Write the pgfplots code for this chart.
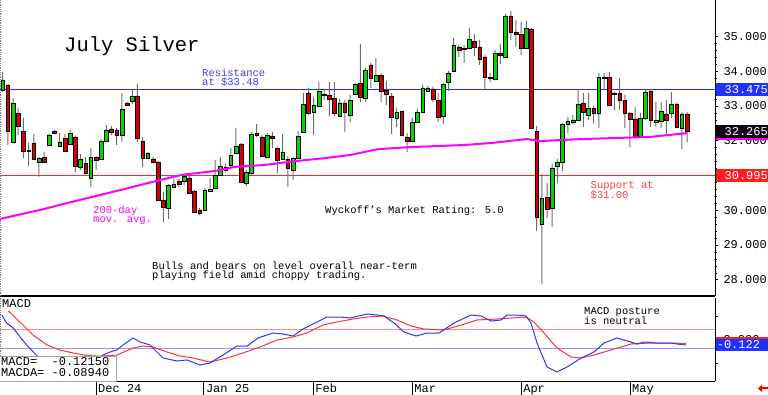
\documentclass[border=0pt]{standalone}
\usepackage{pgfplots}
\pgfplotsset{compat=1.18}
\usepackage{pgfplotstable}
\usepackage{fontspec}
\setmainfont{Liberation Mono}
\usetikzlibrary{arrows.meta}
\definecolor{upgreen}{RGB}{0,214,0}
\definecolor{dnred}{RGB}{214,0,0}
\definecolor{wick}{RGB}{110,110,110}
\definecolor{resblue}{RGB}{40,40,255}
\definecolor{restext}{RGB}{60,60,255}
\definecolor{supred}{RGB}{255,40,40}
\definecolor{suptext}{RGB}{255,60,60}
\definecolor{mamag}{RGB}{255,0,255}
\definecolor{macdblue}{RGB}{50,50,255}
\definecolor{macdred}{RGB}{255,50,50}
\definecolor{lightred}{RGB}{255,140,140}
\definecolor{lightblue}{RGB}{150,150,255}
\definecolor{boxblue}{RGB}{30,50,255}
\definecolor{boxred}{RGB}{255,30,30}
\definecolor{boxblack}{RGB}{20,0,20}
\newcommand\fs[1]{\fontsize{#1}{#1}\selectfont}

\pgfplotstableread{
j o h l c
0 33.46 33.98 33.40 33.75
1 33.61 33.63 31.88 32.28
2 31.97 33.23 31.94 33.09
3 32.80 32.94 32.17 32.43
4 32.28 32.66 31.50 31.71
5 31.71 31.94 31.27 31.73
6 31.94 32.20 31.45 31.48
7 31.39 31.53 30.96 31.50
8 31.53 31.68 31.36 31.39
9 31.88 32.20 31.85 32.17
10 32.28 32.31 32.20 32.22
11 31.85 32.22 31.82 31.97
12 32.08 32.20 31.68 31.71
13 31.91 32.31 31.88 32.22
14 32.11 32.14 31.10 31.27
15 31.25 31.62 31.16 31.48
16 31.36 31.53 31.04 31.07
17 30.93 31.79 30.67 31.53
18 31.53 31.56 31.16 31.45
19 31.48 32.05 31.45 31.99
20 31.99 32.45 31.97 32.31
21 32.34 32.43 32.17 32.25
22 32.31 32.37 31.88 32.17
23 32.17 33.37 31.97 32.91
24 33.09 33.12 33.00 33.03
25 33.14 33.49 33.06 33.29
26 33.29 33.63 31.97 32.08
27 31.99 32.11 31.25 31.50
28 31.50 31.68 31.48 31.65
29 31.48 31.53 31.36 31.39
30 31.39 31.42 30.27 30.30
31 30.30 30.53 29.66 30.10
32 30.07 30.76 29.75 30.73
33 30.67 30.90 30.64 30.76
34 30.84 30.90 30.67 30.76
35 30.84 31.04 30.73 30.99
36 30.93 30.99 30.47 30.50
37 30.56 30.58 29.92 29.95
38 30.01 30.07 29.86 29.92
39 30.01 30.64 29.98 30.58
40 30.56 30.93 30.53 30.61
41 30.64 31.45 30.61 31.02
42 31.02 31.53 30.99 31.27
43 31.16 31.33 31.10 31.25
44 31.30 31.79 31.25 31.59
45 31.65 32.37 31.65 31.85
46 31.91 31.94 30.78 30.81
47 30.78 31.16 30.70 31.10
48 31.07 32.25 31.02 32.20
49 32.22 32.48 32.11 32.17
50 32.11 32.17 31.53 31.56
51 31.53 32.22 31.50 32.17
52 32.14 32.25 31.79 32.08
53 31.79 31.82 31.07 31.45
54 31.48 32.20 31.45 31.68
55 31.48 31.56 30.67 31.22
56 31.16 31.53 30.87 31.50
57 31.50 32.28 31.48 32.14
58 32.25 33.37 32.25 33.06
59 33.37 33.52 32.74 32.80
60 32.83 33.26 32.17 33.03
61 33.00 33.69 32.97 33.43
62 33.35 33.46 33.17 33.32
63 33.32 33.69 32.71 33.20
64 33.23 33.69 32.71 32.80
65 32.71 33.20 32.68 33.09
66 33.09 33.17 32.25 32.83
67 32.74 33.32 32.54 33.17
68 33.35 33.66 33.32 33.63
69 33.66 34.78 33.12 33.26
70 33.23 34.09 33.12 34.04
71 34.18 34.24 33.52 33.81
72 33.72 34.38 33.69 33.89
73 33.89 33.95 33.12 33.43
74 33.46 33.72 33.03 33.35
75 33.29 33.37 32.20 32.68
76 32.65 32.94 32.40 32.83
77 32.86 32.86 32.14 32.17
78 32.11 32.22 31.68 31.99
79 31.99 32.65 31.97 32.54
80 32.54 32.91 32.51 32.83
81 32.83 33.60 32.83 33.52
82 33.43 33.58 33.40 33.52
83 33.49 33.55 33.12 33.20
84 33.17 33.37 32.54 32.68
85 32.71 33.66 32.48 33.63
86 33.69 34.01 33.43 33.95
87 34.01 34.96 33.98 34.75
88 34.70 34.75 34.41 34.61
89 34.64 34.75 34.24 34.67
90 34.67 35.24 34.64 34.93
91 34.87 35.07 34.44 34.70
92 34.70 34.90 34.18 34.35
93 34.41 34.47 33.46 33.83
94 33.83 33.95 33.69 33.81
95 33.78 34.61 33.75 34.53
96 34.53 34.78 34.21 34.47
97 34.41 35.65 34.38 35.59
98 35.59 35.73 34.90 35.13
99 35.13 35.48 34.70 35.07
100 35.07 35.42 34.47 34.67
101 34.67 35.45 34.67 35.24
102 35.22 35.24 32.34 32.37
103 32.28 32.43 29.40 29.81
104 29.61 31.04 27.88 30.35
105 30.38 30.78 29.78 30.04
106 30.07 31.33 29.52 31.22
107 31.27 31.48 30.78 31.39
108 31.39 32.51 31.13 32.48
109 32.48 32.68 32.22 32.57
110 32.54 32.74 32.48 32.60
111 32.60 33.46 32.57 33.06
112 33.09 33.37 32.40 32.83
113 32.74 33.37 32.60 32.94
114 32.94 33.00 32.51 32.80
115 32.80 33.95 32.37 33.83
116 33.83 33.95 33.46 33.81
117 33.83 33.98 33.03 33.02
118 33.35 33.40 32.88 33.37
119 33.37 33.81 32.88 33.17
120 33.17 33.32 32.37 32.80
121 32.80 32.83 31.82 32.63
122 32.63 32.97 32.11 32.14
123 32.14 32.80 32.11 32.65
124 32.65 33.46 32.60 33.40
125 33.43 33.46 32.40 32.60
126 32.54 33.12 32.40 32.60
127 32.57 33.12 32.37 32.86
128 32.77 33.17 32.17 32.60
129 32.80 33.40 32.65 33.06
130 33.06 33.09 32.40 32.40
131 32.37 32.83 31.76 32.77
132 32.77 32.83 31.96 32.265
}\candles

\pgfplotstableread{
j p
-0.52 29.75
7.20 30.01
14.91 30.30
22.63 30.58
30.34 30.87
34.59 31.02
40.95 31.13
44.81 31.25
50.21 31.30
56.77 31.42
62.17 31.50
67.00 31.59
72.40 31.76
78.96 31.82
84.36 31.85
89.18 31.88
94.58 31.94
101.14 32.05
103.65 31.99
107.50 32.02
111.94 32.05
118.50 32.08
124.87 32.11
132.00 32.22
}\mavg

\pgfplotstableread{
j m
-0.19 0.517
0.77 0.347
2.04 0.240
3.34 0.049
4.63 -0.121
5.90 -0.270
6.87 -0.377
11.05 -0.611
14.91 -0.653
17.80 -0.504
19.35 -0.334
20.70 -0.270
21.99 -0.228
23.21 -0.121
25.14 0.028
26.49 -0.057
28.41 -0.121
30.92 -0.398
33.62 -0.462
35.55 -0.440
38.06 -0.547
39.99 -0.504
42.50 -0.334
45.19 -0.143
47.13 -0.143
49.25 0.028
52.14 0.134
54.07 0.113
56.00 0.070
57.93 0.219
60.63 0.368
62.56 0.474
65.07 0.474
66.99 0.453
70.27 0.538
72.20 0.517
73.55 0.496
75.48 0.347
77.41 0.155
79.73 0.070
81.85 0.134
84.16 0.134
87.05 0.347
90.34 0.517
92.26 0.496
94.19 0.389
96.12 0.411
97.28 0.517
99.21 0.517
100.94 0.496
101.91 0.347
103.07 -0.079
105.00 -0.590
106.93 -0.696
108.85 -0.590
111.56 -0.398
114.06 -0.270
116.00 -0.079
118.50 0.028
121.20 -0.057
122.36 -0.100
123.71 -0.057
126.22 -0.079
128.92 -0.079
130.07 -0.100
131.81 -0.1215
}\macdtab

\pgfplotstableread{
j m
1.08 0.602
3.34 0.368
5.85 0.091
8.55 -0.121
11.05 -0.228
13.56 -0.291
16.26 -0.345
18.77 -0.360
22.05 -0.334
25.14 -0.185
27.06 -0.143
28.99 -0.164
31.69 -0.270
34.20 -0.355
36.71 -0.398
39.99 -0.483
43.27 -0.398
46.35 -0.291
49.63 -0.164
52.91 -0.015
56.00 0.049
58.70 0.134
61.79 0.304
64.49 0.368
67.57 0.432
70.27 0.474
73.36 0.496
76.06 0.411
78.76 0.283
81.27 0.219
85.13 0.198
88.41 0.304
91.49 0.411
95.35 0.432
98.05 0.453
100.94 0.474
102.49 0.368
104.41 0.134
106.93 -0.185
109.63 -0.377
111.56 -0.398
114.06 -0.334
117.34 -0.228
121.20 -0.100
125.06 -0.079
128.92 -0.079
131.81 -0.0894
}\macdatab

\pgfplotsset{
  mainax/.style={at={(0pt,99pt)}, anchor=south west, scale only axis,
    width=715pt, height=296pt, xmin=-0.52, xmax=137.4, ymin=27.534, ymax=36.05,
    enlargelimits=false, clip mode=individual},
}

\begin{document}
\begin{tikzpicture}
\path[use as bounding box] (0pt,0pt) rectangle (768pt,395pt);

% ---- main panel: axis frame and ticks
\begin{axis}[mainax,
  axis x line*=bottom, axis y line*=right,
  x axis line style={line width=1.6pt},
  y axis line style={line width=0.8pt},
  xtick=\empty,
  ytick={28,29,...,35}, minor y tick num=4,
  tick align=outside, major tick length=3pt, minor tick length=1.5pt,
  tick style={black, line width=0.6pt},
  /pgf/number format/assume math mode=true,
  yticklabel style={font=\fs{12}, xshift=2pt,
    /pgf/number format/fixed, /pgf/number format/fixed zerofill,
    /pgf/number format/precision=3, /pgf/number format/assume math mode=true},
]
\end{axis}

% ---- resistance and support lines
\begin{axis}[mainax, hide axis]
\addplot[color=resblue, solid, line width=1pt, mark=none] coordinates {(-0.52,33.475) (137.4,33.475)};
\addplot[color=supred, solid, line width=1pt, mark=none] coordinates {(-0.52,30.995) (137.4,30.995)};
\end{axis}

% ---- wicks (low .. high)
\begin{axis}[mainax, hide axis, ybar stacked, bar width=1pt]
\addplot[draw=none, fill=none] table[x=j, y=l] {\candles};
\addplot[draw=none, fill=wick] table[x=j, y expr={\thisrow{h}-\thisrow{l}}] {\candles};
\end{axis}

% ---- candle bodies
\begin{axis}[mainax, hide axis, ybar stacked, bar width=0.72]
\addplot[draw=none, fill=none] table[x=j, y expr={min(\thisrow{o},\thisrow{c})}] {\candles};
\addplot[fill=upgreen, draw=black, line width=0.5pt] table[x=j, y expr={max(\thisrow{c}-\thisrow{o},0)}] {\candles};
\addplot[fill=dnred, draw=black, line width=0.5pt] table[x=j, y expr={max(\thisrow{o}-\thisrow{c},0)}] {\candles};
\end{axis}

% ---- moving average and value boxes
\begin{axis}[mainax, hide axis]
\addplot[color=mamag, line width=2pt, mark=none] table[x=j, y=p] {\mavg};
\node[fill=mamag, anchor=west, minimum height=12.5pt, minimum width=53pt, inner sep=0pt, xshift=0.6pt] at (axis cs:137.4,32.20) {};
\node[fill=boxblack, text=white, anchor=west, minimum height=12.5pt, text width=51pt, align=right, inner xsep=1pt, inner ysep=0pt, font=\fs{12}, xshift=0.6pt] at (axis cs:137.4,32.265) {32.265};
\node[fill=boxblue, text=white, anchor=west, minimum height=12.5pt, text width=51pt, align=right, inner xsep=1pt, inner ysep=0pt, font=\fs{12}, xshift=0.6pt] at (axis cs:137.4,33.475) {33.475};
\node[fill=boxred, text=white, anchor=west, minimum height=12.5pt, text width=51pt, align=right, inner xsep=1pt, inner ysep=0pt, font=\fs{12}, xshift=0.6pt] at (axis cs:137.4,30.995) {30.995};
\end{axis}

% ---- MACD panel
\begin{axis}[at={(0pt,14pt)}, anchor=south west, scale only axis,
  width=715pt, height=83pt, xmin=-0.52, xmax=137.4, ymin=-0.887, ymax=0.879,
  enlargelimits=false, clip mode=individual,
  axis x line*=bottom, axis y line*=right,
  axis line style={line width=0.8pt},
  xtick=\empty, ytick={-0.5,0,0.5}, yticklabels={,0.000,},
  tick align=outside, major tick length=3pt,
  tick style={black, line width=0.6pt},
  yticklabel style={font=\fs{12}, xshift=2pt},
]
\addplot[color=lightred, solid, line width=1pt, mark=none] coordinates {(-0.52,0.2) (137.4,0.2)};
\addplot[color=lightblue, solid, line width=1pt, mark=none] coordinates {(-0.52,-0.2) (137.4,-0.2)};
\addplot[color=macdred, line width=1pt, mark=none] table[x=j, y=m] {\macdatab};
\addplot[color=macdblue, line width=1pt, mark=none] table[x=j, y=m] {\macdtab};
\pgfplotsinvokeforeach{18,38.8,59.9,79,100,121}{
  \draw[black, line width=0.8pt] (axis cs:#1,-0.887) -- ++(0pt,-14pt);
}
\node[anchor=base west, font=\fs{12}, inner sep=0pt, xshift=2pt, yshift=-11.5pt] at (axis cs:18,-0.887) {Dec 24};
\node[anchor=base west, font=\fs{12}, inner sep=0pt, xshift=2pt, yshift=-11.5pt] at (axis cs:38.8,-0.887) {Jan 25};
\node[anchor=base west, font=\fs{12}, inner sep=0pt, xshift=2pt, yshift=-11.5pt] at (axis cs:59.9,-0.887) {Feb};
\node[anchor=base west, font=\fs{12}, inner sep=0pt, xshift=2pt, yshift=-11.5pt] at (axis cs:79,-0.887) {Mar};
\node[anchor=base west, font=\fs{12}, inner sep=0pt, xshift=2pt, yshift=-11.5pt] at (axis cs:100,-0.887) {Apr};
\node[anchor=base west, font=\fs{12}, inner sep=0pt, xshift=2pt, yshift=-11.5pt] at (axis cs:121,-0.887) {May};
\node[fill=boxred, anchor=west, minimum height=12.5pt, minimum width=53pt, inner sep=0pt, xshift=0.6pt] at (axis cs:137.4,-0.0894) {};
\node[fill=boxblue, text=white, anchor=west, minimum height=12.5pt, text width=51pt, align=left, inner xsep=1pt, inner ysep=0pt, font=\fs{12}, xshift=0.6pt] at (axis cs:137.4,-0.1215) {-0.122};
\end{axis}

% ---- decorations and texts
\draw[gray, densely dotted, line width=0.8pt] (0.5pt,99pt) -- (0.5pt,395pt);
\draw[gray, densely dotted, line width=0.8pt] (0.5pt,14pt) -- (0.5pt,97pt);
\filldraw[fill=white, draw=gray!70, line width=0.8pt] (-1pt,13.6pt) rectangle (116.7pt,39pt);
\node[anchor=base west, font=\fs{12}, inner sep=0pt] at (1pt,29pt) {MACD=\ \ -0.12150};
\node[anchor=base west, font=\fs{12}, inner sep=0pt] at (1pt,18pt) {MACDA=\ -0.08940};
\node[anchor=base west, font=\fs{12}, inner sep=0pt] at (2pt,87pt) {MACD};

\node[anchor=base west, font=\fs{20.5}, inner sep=0pt] at (64pt,343pt) {July Silver};
\node[anchor=base west, font=\fs{10.5}, text=restext, inner sep=0pt] at (202pt,318pt) {Resistance};
\node[anchor=base west, font=\fs{10.5}, text=restext, inner sep=0pt] at (202pt,309pt) {at \$33.48};
\node[anchor=base west, font=\fs{10.5}, text=mamag, inner sep=0pt] at (93pt,181pt) {200-day};
\node[anchor=base west, font=\fs{10.5}, text=mamag, inner sep=0pt] at (93pt,172pt) {mov. avg.};
\node[anchor=base west, font=\fs{10.5}, inner sep=0pt] at (325pt,181pt) {Wyckoff{\char"27}s Market Rating: 5.0};
\node[anchor=base west, font=\fs{10.5}, inner sep=0pt] at (152pt,125pt) {Bulls and bears on level overall near-term};
\node[anchor=base west, font=\fs{10.5}, inner sep=0pt] at (152pt,116pt) {playing field amid choppy trading.};
\node[anchor=base west, font=\fs{10.5}, text=suptext, inner sep=0pt] at (590.5pt,206pt) {Support at};
\node[anchor=base west, font=\fs{10.5}, text=suptext, inner sep=0pt] at (590.5pt,196pt) {\$31.00};
\node[anchor=base west, font=\fs{10.5}, inner sep=0pt] at (584pt,80pt) {MACD posture};
\node[anchor=base west, font=\fs{10.5}, inner sep=0pt] at (584pt,70pt) {is neutral};
\draw[red, line width=2pt, -{Triangle[length=4pt, width=7pt]}] (767.5pt,6.5pt) -- (758pt,6.5pt);
\end{tikzpicture}
\end{document}
